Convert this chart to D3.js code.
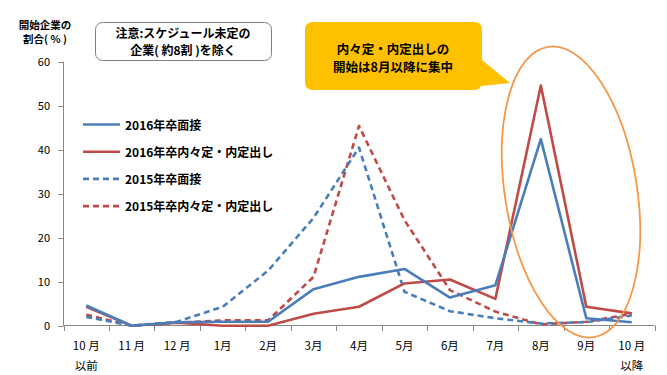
<!DOCTYPE html>
<html>
<head>
<meta charset="utf-8">
<script src="https://cdn.jsdelivr.net/npm/d3@7"></script>
<style>
  body { margin: 0; background: #fff; }
  svg { display: block; font-family: "Noto Sans CJK JP", "Noto Sans", sans-serif; }
</style>
</head>
<body>
<svg id="chart" width="667" height="375"></svg>
<script>
// months (first line / second line of label)
const months = ["10 月", "11 月", "12 月", "1月", "2月", "3月", "4月", "5月", "6月", "7月", "8月", "9月", "10 月"];
const monthSub = ["以前", "", "", "", "", "", "", "", "", "", "", "", "以降"];
const yTicks = [0, 10, 20, 30, 40, 50, 60];

// share of companies starting (%)
const interview2016 = [4.6, 0, 0.8, 0.9, 0.9, 8.3, 11.1, 12.9, 6.4, 9.2, 42.4, 1.7, 0.8];
const offer2016     = [4.3, 0, 0.7, 0, 0, 2.7, 4.3, 9.6, 10.5, 6.1, 54.6, 4.3, 2.8];
const interview2015 = [2.0, 0, 0.9, 4.3, 12.5, 24.5, 40.5, 7.7, 3.3, 1.7, 0.5, 0.8, 2.3];
const offer2015     = [2.5, 0, 0.7, 1.2, 1.2, 11.1, 45.4, 24.0, 8.1, 3.2, 0.3, 0.9, 2.7];

const seriesNames = ["2016年卒面接", "2016年卒内々定・内定出し", "2015年卒面接", "2015年卒内々定・内定出し"];

const blue = "#4A7EBB", red = "#BE4B48";
const series = [
  { name: seriesNames[0], values: interview2016, color: blue, dash: null },
  { name: seriesNames[1], values: offer2016, color: red, dash: null },
  { name: seriesNames[2], values: interview2015, color: blue, dash: "6,4" },
  { name: seriesNames[3], values: offer2015, color: red, dash: "6,4" }
];

const svg = d3.select("#chart");

// Scales
const x = d3.scaleBand().domain(d3.range(months.length)).range([63.5, 654.5]);
const y = d3.scaleLinear().domain([0, 60]).range([325.7, 61.7]);
const cx = i => x(i) + x.bandwidth() / 2;

// Y axis
svg.append("line")
  .attr("x1", 63.5).attr("x2", 63.5)
  .attr("y1", y(60)).attr("y2", y(0))
  .attr("stroke", "#868686");
svg.selectAll(".ytick").data(yTicks).join("line")
  .attr("x1", 58.5).attr("x2", 63.5)
  .attr("y1", d => Math.round(y(d)) + 0.5).attr("y2", d => Math.round(y(d)) + 0.5)
  .attr("stroke", "#868686");
svg.selectAll(".ylab").data(yTicks).join("text")
  .attr("x", 50).attr("y", d => y(d) + 4)
  .attr("text-anchor", "end")
  .attr("font-size", 11).attr("fill", "#000")
  .text(d => d);

// X axis
svg.append("line")
  .attr("x1", 63.5).attr("x2", 654.5)
  .attr("y1", 325.5).attr("y2", 325.5)
  .attr("stroke", "#868686");
svg.selectAll(".xtick").data(d3.range(months.length + 1)).join("line")
  .attr("x1", i => Math.round(63.5 + i * x.step()) + 0.5)
  .attr("x2", i => Math.round(63.5 + i * x.step()) + 0.5)
  .attr("y1", 325.5).attr("y2", 331)
  .attr("stroke", "#868686");
svg.selectAll(".xlab").data(months).join("text")
  .attr("x", (d, i) => cx(i)).attr("y", 350)
  .attr("text-anchor", "middle").attr("font-size", 11.5)
  .text(d => d);
svg.selectAll(".xlab2").data(monthSub).join("text")
  .attr("x", (d, i) => cx(i)).attr("y", 370)
  .attr("text-anchor", "middle").attr("font-size", 11.5)
  .text(d => d);

// Lines
const line = d3.line().x((d, i) => cx(i)).y(d => y(d));
svg.selectAll(".series").data(series.slice().reverse()).join("path")
  .attr("d", d => line(d.values))
  .attr("fill", "none")
  .attr("stroke", d => d.color)
  .attr("stroke-width", 2.6)
  .attr("stroke-dasharray", d => d.dash)
  .attr("stroke-linejoin", "round");

// Legend
const legend = svg.selectAll(".legend").data(series).join("g")
  .attr("transform", (d, i) => `translate(83,${124.5 + i * 27.2})`);
legend.append("line")
  .attr("x1", 0).attr("x2", 37)
  .attr("stroke", d => d.color).attr("stroke-width", 2.6)
  .attr("stroke-dasharray", d => d.dash);
legend.append("text")
  .attr("x", 42).attr("y", 5)
  .attr("font-size", 12).attr("font-weight", "bold")
  .text(d => d.name);

// Y axis title
svg.append("text").attr("x", 45).attr("y", 29)
  .attr("text-anchor", "middle").attr("font-size", 10.5).attr("font-weight", "bold")
  .text("開始企業の");
svg.append("text").attr("x", 45).attr("y", 43)
  .attr("text-anchor", "middle").attr("font-size", 10.5).attr("font-weight", "bold")
  .text("割合( % )");

// Note box
svg.append("rect")
  .attr("x", 95.5).attr("y", 22.5).attr("width", 176).attr("height", 38)
  .attr("rx", 7).attr("fill", "#fff").attr("stroke", "#7f7f7f");
svg.append("text").attr("x", 183).attr("y", 38)
  .attr("text-anchor", "middle").attr("font-size", 12).attr("font-weight", "bold")
  .text("注意:スケジュール未定の");
svg.append("text").attr("x", 183).attr("y", 55)
  .attr("text-anchor", "middle").attr("font-size", 12).attr("font-weight", "bold")
  .text("企業( 約8割 )を除く");

// Highlight ellipse
svg.append("ellipse")
  .attr("transform", "translate(571,192) rotate(-9)")
  .attr("rx", 66).attr("ry", 147)
  .attr("fill", "none").attr("stroke", "#F79646").attr("stroke-width", 1.8);

// Callout
svg.append("path")
  .attr("d", "M313,22 H474 Q482,22 482,30 V60 L510,83 L481,86 Q479,90 474,90 H313 Q305,90 305,82 V30 Q305,22 313,22 Z")
  .attr("fill", "#FFC000");
svg.append("text").attr("x", 393).attr("y", 54)
  .attr("text-anchor", "middle").attr("font-size", 12.5).attr("font-weight", "bold")
  .text("内々定・内定出しの");
svg.append("text").attr("x", 393).attr("y", 72)
  .attr("text-anchor", "middle").attr("font-size", 12.5).attr("font-weight", "bold")
  .text("開始は8月以降に集中");
</script>
</body>
</html>
